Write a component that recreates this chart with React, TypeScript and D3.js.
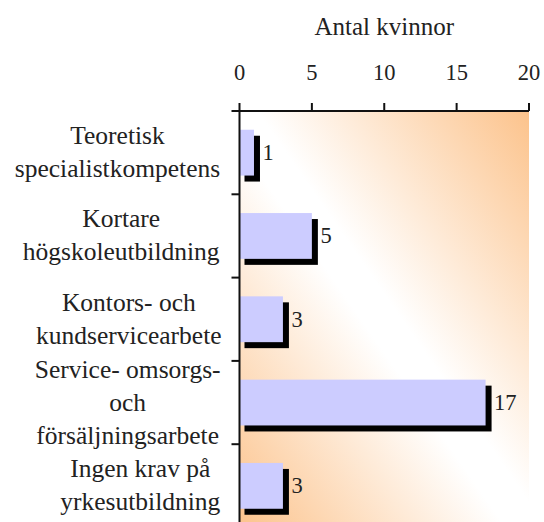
import React from "react";
import { scaleLinear, scaleBand, range, max } from "d3";

const categoryLines: string[][] = [
  ["Teoretisk", "specialistkompetens"],
  ["Kortare", "högskoleutbildning"],
  ["Kontors- och", "kundservicearbete"],
  ["Service- omsorgs-", "och", "försäljningsarbete"],
  ["Ingen krav på", "yrkesutbildning"],
];
const values: number[] = [1, 5, 3, 17, 3];
const tickValues: number[] = [0, 5, 10, 15, 20];
const axisTitle = "Antal kvinnor";

const W = 544;
const H = 522;
const FONT = "Liberation Serif";
const LABEL_SIZE = 25.5;
const NUM_SIZE = 22.5;

function measure(text: string, size: number): number {
  // approximate Times/Liberation Serif advance widths (em units)
  const wide = "mwMW";
  const narrow = "iljtfrI.,:;'- ";
  let w = 0;
  for (const ch of text) {
    if (wide.includes(ch)) w += 0.75;
    else if (narrow.includes(ch)) w += 0.3;
    else if (ch === "s") w += 0.39;
    else if ("ceaäå".includes(ch)) w += 0.44;
    else if (ch === ch.toUpperCase() && ch !== ch.toLowerCase()) w += 0.67;
    else w += 0.5;
  }
  return w * size;
}

export default function App() {
  const left = 239.5;
  const right = 529;
  const top = 111;
  const bottom = 527.5;

  const keys = categoryLines.map((l) => l.join(" "));
  const x = scaleLinear().domain([0, 20]).range([left, right]);
  const y = scaleBand<string>()
    .domain(keys)
    .range([top, bottom])
    .paddingInner(0.45)
    .paddingOuter(0.225);
  const step = y.step();
  const bw = y.bandwidth();
  const off = 6;
  const orange = "#FCC38C";
  const lh = 33;
  const blockRight = 221;

  return (
    <svg
      width={W}
      height={H}
      fontFamily={FONT}
      style={{ position: "absolute", left: 0, top: 0, background: "#fff" }}
    >
      <defs>
        <linearGradient id="bg" x1={0} y1={1} x2={1} y2={0}>
          <stop offset={0} stopColor={orange} />
          <stop offset={0.46} stopColor="#FFFFFF" />
          <stop offset={0.53} stopColor="#FFFFFF" />
          <stop offset={1} stopColor={orange} />
        </linearGradient>
      </defs>
      <rect x={left} y={top} width={right - left} height={bottom - top} fill="url(#bg)" />

      {values.map((v, i) => (
        <rect
          key={"s" + i}
          x={x(0) + off - 1}
          y={(y(keys[i]) as number) + off}
          width={x(v) - x(0) + 1}
          height={bw}
          fill="#000"
        />
      ))}
      {values.map((v, i) => (
        <rect
          key={"b" + i}
          x={x(0)}
          y={y(keys[i]) as number}
          width={x(v) - x(0)}
          height={bw}
          fill="#CCCCFF"
        />
      ))}
      {values.map((v, i) => (
        <text
          key={"v" + i}
          x={x(v) + off + 2.5}
          y={(y(keys[i]) as number) + bw / 2 + 7.5}
          style={{ fontFamily: FONT, fontSize: NUM_SIZE, fill: "#222" }}
        >
          {v}
        </text>
      ))}

      <g stroke="#111" strokeWidth={2}>
        <line x1={left} x2={right} y1={top} y2={top} />
        <line x1={left} x2={left} y1={top} y2={bottom} />
        {tickValues.map((t) => (
          <line key={"t" + t} x1={x(t)} x2={x(t)} y1={top - 8} y2={top} />
        ))}
        {range(keys.length + 1).map((i) => (
          <line
            key={"c" + i}
            x1={left - 8}
            x2={left}
            y1={top + i * step}
            y2={top + i * step}
          />
        ))}
      </g>

      {tickValues.map((t) => (
        <text
          key={"tl" + t}
          x={x(t)}
          y={80}
          textAnchor="middle"
          style={{ fontFamily: FONT, fontSize: NUM_SIZE, fill: "#222" }}
        >
          {t}
        </text>
      ))}

      <text
        x={(left + right) / 2}
        y={35}
        textAnchor="middle"
        style={{ fontFamily: FONT, fontSize: 25, fill: "#222" }}
      >
        {axisTitle}
      </text>

      {categoryLines.map((lines, i) => {
        const cy = (y(keys[i]) as number) + bw / 2;
        const maxW = max(lines, (ln) => measure(ln, LABEL_SIZE)) || 0;
        const cx = blockRight - maxW / 2;
        return (
          <g key={"cat" + i}>
            {lines.map((ln, j) => (
              <text
                key={j}
                x={cx}
                y={cy + (j - (lines.length - 1) / 2) * lh + 8}
                textAnchor="middle"
                style={{ fontFamily: FONT, fontSize: LABEL_SIZE, fill: "#222" }}
              >
                {ln}
              </text>
            ))}
          </g>
        );
      })}
    </svg>
  );
}
